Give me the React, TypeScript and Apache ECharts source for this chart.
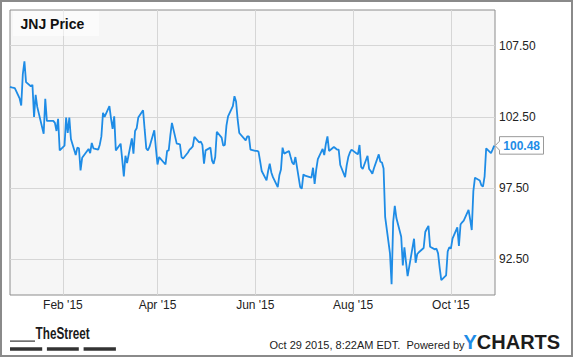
import React, { useEffect, useRef } from 'react';
import * as echarts from 'echarts';

// ---- data ----
const firstDate = '2014-12-30';
const lastDate = '2015-10-28';
const marketHolidays = ['2015-01-01', '2015-01-19', '2015-02-16', '2015-04-03', '2015-05-25', '2015-07-03', '2015-09-07'];

const closeDec2014 = [104.61, 104.57];
const closeJan = [104.52, 103.79, 103.3, 105.5, 106.39, 104.94, 104.65, 104.75, 102.5, 104.05, 103.2, 101.32, 103.77, 102.22, 102.22, 102.22, 102.08, 101.51, 102.36, 100.15];
const closeFeb = [100.48, 102.45, 101.37, 102.45, 100.95, 99.82, 100.34, 100.29, 98.74, 99.63, 100.25, 99.96, 100.67, 100.29, 100.2, 100.55, 101.13, 102.78, 102.5];
const closeMar = [103.25, 102.4, 101.65, 102.54, 100.15, 100.62, 99.5, 98.32, 99.77, 99.26, 100.99, 99.92, 101.51, 101.7, 102.45, 102.96, 101.6, 100.29, 100.15, 100.39, 101.56, 100.3];
const closeApr = [99.16, 99.68, 99.16, 100.11, 100.15, 101.2, 102.08, 100.62, 100.6, 100.57, 99.68, 99.58, 100.0, 100.2, 100.3, 100.43, 101.09, 100.71, 100.76, 100.53, 99.21];
const closeMay = [100.15, 100.34, 99.44, 99.21, 99.68, 101.46, 101.04, 100.48, 100.53, 101.89, 102.54, 103.25, 103.95, 103.58, 102.3, 101.37, 100.85, 101.13, 101.13, 100.2];
const closeJun = [100.11, 100.11, 100.06, 99.4, 98.7, 98.04, 98.7, 99.21, 98.6, 98.27, 97.57, 98.4, 98.8, 100.34, 99.92, 100.11, 99.7, 99.3, 99.16, 99.68, 97.57, 97.47];
const closeJul = [98.46, 98.37, 98.23, 98.93, 97.8, 98.8, 99.54, 100.25, 99.82, 100.6, 101.13, 100.11, 100.39, 100.3, 100.2, 100.2, 99.12, 98.27, 99.1, 99.68, 100.0, 100.2];
const closeAug = [99.95, 99.87, 100.53, 98.98, 98.84, 99.77, 98.84, 98.7, 98.51, 98.9, 99.87, 99.35, 99.3, 98.88, 95.46, 92.92, 90.76, 95.13, 96.25, 95.4, 94.09];
const closeSep = [92.08, 93.35, 92.3, 91.32, 93.95, 92.26, 92.87, 93.0, 93.3, 94.42, 94.65, 94.85, 93.39, 93.2, 93.25, 92.92, 91.9, 91.04, 91.37, 93.06, 93.35];
const closeOct = [93.25, 93.95, 94.75, 93.44, 94.94, 95.1, 95.22, 95.97, 95.3, 94.56, 97.29, 98.23, 98.04, 97.7, 97.61, 98.3, 100.29, 99.96, 100.2, 100.48];

const monthTickDates = ['2015-02-01', '2015-04-01', '2015-06-01', '2015-08-01', '2015-10-01'];
const monthTickLabels = ["Feb '15", "Apr '15", "Jun '15", "Aug '15", "Oct '15"];
const priceTicks = [92.5, 97.5, 102.5, 107.5];
const priceMin = 90;
const priceMax = 110;

const titleText = 'JNJ Price';
const stampText = 'Oct 29 2015, 8:22AM EDT.  Powered by';

// ---- helpers ----
const DAY = 86400000;
const EPOCH = Date.UTC(2015, 0, 1);
function toDay(s: string): number {
  const [y, m, d] = s.split('-').map(Number);
  return (Date.UTC(y, m - 1, d) - EPOCH) / DAY;
}
function isoOf(t: number): string {
  return new Date(t).toISOString().slice(0, 10);
}
function tradingDays(): number[] {
  const out: number[] = [];
  const end = Date.UTC(2015, 9, 28);
  const [y0, m0, d0] = firstDate.split('-').map(Number);
  for (let t = Date.UTC(y0, m0 - 1, d0); t <= end; t += DAY) {
    const wd = new Date(t).getUTCDay();
    if (wd === 0 || wd === 6) continue;
    if (marketHolidays.includes(isoOf(t))) continue;
    out.push((t - EPOCH) / DAY);
  }
  return out;
}

const closes = [
  ...closeDec2014, ...closeJan, ...closeFeb, ...closeMar, ...closeApr, ...closeMay,
  ...closeJun, ...closeJul, ...closeAug, ...closeSep, ...closeOct,
];

const FONT = 'Liberation Sans, Arial, Helvetica, sans-serif';
const BLUE = '#1e8ce6';

export default function App() {
  const ref = useRef<HTMLDivElement>(null);
  useEffect(() => {
    document.body.style.margin = '0';
    const el = ref.current!;
    const chart = echarts.init(el, null, { renderer: 'svg', width: 575, height: 358 });
    const days = tradingDays();
    const n = Math.min(days.length, closes.length);
    const seriesData: [number, number][] = [];
    for (let i = 0; i < n; i++) seriesData.push([days[i], closes[i]]);
    const tickDays = monthTickDates.map(toDay);

    chart.setOption({
      animation: false,
      backgroundColor: '#ffffff',
      grid: {
        left: 10, top: 10, right: 80, bottom: 63,
        show: true, backgroundColor: '#f6f6f6', borderColor: '#8c8c8c', borderWidth: 1,
      },
      xAxis: {
        type: 'value',
        min: toDay(firstDate),
        max: toDay(lastDate) + 0.5,
        axisLine: { show: false },
        axisTick: { show: false, customValues: tickDays },
        axisLabel: {
          customValues: tickDays,
          margin: 4,
          color: '#222',
          fontSize: 12,
          fontFamily: FONT,
          formatter: (v: number) => {
            const k = tickDays.indexOf(v);
            return k >= 0 ? monthTickLabels[k] : '';
          },
        },
        splitLine: { show: true, lineStyle: { color: '#d6d6d6', width: 1 } },
      },
      yAxis: {
        type: 'value',
        position: 'right',
        min: priceMin,
        max: priceMax,
        axisLine: { show: false },
        axisTick: { show: false, customValues: priceTicks },
        axisLabel: {
          customValues: priceTicks,
          margin: 4,
          color: '#222',
          fontSize: 12,
          fontFamily: FONT,
          formatter: (v: number) => v.toFixed(2),
        },
        splitLine: { show: true, lineStyle: { color: '#d6d6d6', width: 1 } },
      },
      series: [
        {
          type: 'line',
          data: seriesData,
          showSymbol: false,
          symbol: 'none',
          lineStyle: { color: BLUE, width: 1.8 },
          z: 3,
        },
      ],
    });

    const last = seriesData[seriesData.length - 1];
    const pt = chart.convertToPixel({ gridIndex: 0 }, last) as number[];
    const py = pt[1];
    const tagLeft = 499.5;
    const tagRight = 543.5;

    chart.setOption({
      graphic: [
        {
          type: 'rect', silent: true,
          shape: { x: 1, y: 1, width: 571, height: 355 },
          style: { fill: 'none', stroke: '#8a8a8a', lineWidth: 2 },
        },
        {
          type: 'rect', silent: true, z: 10,
          shape: { x: 13, y: 11, width: 86, height: 25 },
          style: { fill: 'rgba(255,255,255,0.55)' },
        },
        {
          type: 'text', silent: true, z: 11, x: 20.5, y: 24,
          style: { text: titleText, font: `bold 14px ${FONT}`, fill: '#111', verticalAlign: 'middle' },
        },
        {
          type: 'polygon', silent: true, z: 12,
          shape: {
            points: [
              [pt[0] + 1, py], [tagLeft, py - 4.5], [tagLeft, py - 9], [tagRight, py - 9],
              [tagRight, py + 8.5], [tagLeft, py + 8.5], [tagLeft, py + 4.5],
            ],
          },
          style: { fill: '#ffffff', stroke: '#9a9a9a', lineWidth: 1 },
        },
        {
          type: 'text', silent: true, z: 13, x: 503.3, y: py,
          style: { text: last[1].toFixed(2), font: `bold 12px ${FONT}`, fill: BLUE, verticalAlign: 'middle' },
        },
        // TheStreet logo
        {
          type: 'rect', silent: true,
          shape: { x: 10, y: 340.5, width: 25, height: 1.2 },
          style: { fill: '#333' },
        },
        {
          type: 'text', silent: true, x: 35.6, y: 342, scaleX: 0.69,
          style: { text: 'TheStreet', font: `bold 17px ${FONT}`, fill: '#1a1a1a', verticalAlign: 'bottom' },
        },
        { type: 'rect', silent: true, shape: { x: 10, y: 347.3, width: 32.2, height: 3.4 }, style: { fill: '#333' } },
        { type: 'rect', silent: true, shape: { x: 46.9, y: 347.3, width: 31.9, height: 3.4 }, style: { fill: '#333' } },
        { type: 'rect', silent: true, shape: { x: 83.6, y: 347.3, width: 32.3, height: 3.4 }, style: { fill: '#333' } },
        // timestamp + ycharts
        {
          type: 'text', silent: true, x: 269.5, y: 344.5,
          style: { text: stampText, font: `11px ${FONT}`, fill: '#222', verticalAlign: 'middle' },
        },
        {
          type: 'text', silent: true, x: 463.5, y: 342,
          style: {
            text: '{y|Y}{c|CHARTS}',
            verticalAlign: 'middle',
            rich: {
              y: { fill: BLUE, font: `bold 20px ${FONT}` },
              c: { fill: '#1c1c1c', font: `bold 20px ${FONT}` },
            },
          },
        },
      ],
    });

    return () => chart.dispose();
  }, []);
  return <div ref={ref} style={{ width: 575, height: 358 }} />;
}
